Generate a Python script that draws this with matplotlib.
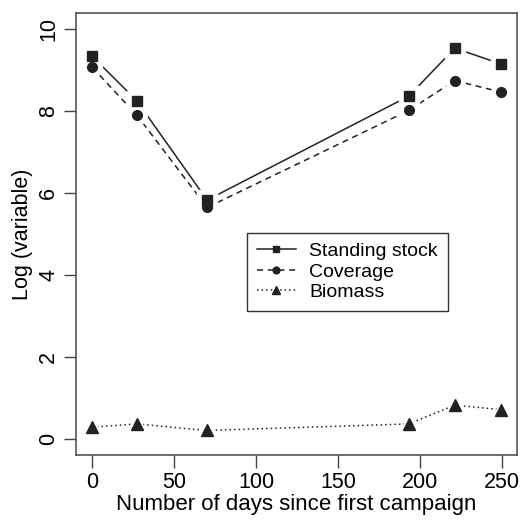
import matplotlib
matplotlib.use("Agg")
import matplotlib.pyplot as plt

plt.rcParams['font.family'] = ['Liberation Sans', 'DejaVu Sans']

# data
days = [0, 27, 70, 193, 221, 249]
standing_stock = [9.34, 8.26, 5.83, 8.37, 9.54, 9.16]
coverage = [9.07, 7.91, 5.65, 8.02, 8.75, 8.47]
biomass = [0.28, 0.36, 0.20, 0.36, 0.82, 0.71]

x_ticks = [0, 50, 100, 150, 200, 250]
y_ticks = [0, 2, 4, 6, 8, 10]

fig = plt.figure(figsize=(5.21, 5.25), dpi=100)
ax = fig.add_axes([0.1459, 0.1333, 0.8464, 0.8419])

lc = '#222222'
series = [
    (standing_stock, '-', 's', 7, 'Standing stock'),
    (coverage, (0, (4, 3)), 'o', 7, 'Coverage'),
    (biomass, (0, (1, 2)), '^', 8, 'Biomass'),
]
for vals, ls, mk, ms, lab in series:
    ax.plot(days, vals, color=lc, lw=1.1, ls=ls, zorder=2)
    # white halo like R's type="b" gaps
    ax.plot(days, vals, ls='none', marker=mk, ms=ms + 7, color='white',
            mec='white', zorder=3)
    ax.plot(days, vals, ls='none', marker=mk, ms=ms, color=lc, zorder=4)
    ax.plot([], [], color=lc, lw=1.1, ls=ls, marker=mk, ms=ms * 0.7, label=lab)

ax.set_xlim(-9.96, 258.96)
ax.set_ylim(-0.4, 10.4)
ax.set_xticks(x_ticks)
ax.set_yticks(y_ticks)
ax.set_yticklabels([str(v) for v in y_ticks], rotation=90, va='center')
ax.tick_params(labelsize=15.5, length=9, width=1, color='#444444', pad=3)

for s in ax.spines.values():
    s.set_color('#555555')
    s.set_linewidth(1.2)

ax.set_xlabel('Number of days since first campaign', fontsize=16, labelpad=1)
ax.set_ylabel('Log (variable)', fontsize=15.5, labelpad=4)

leg = ax.legend(loc='upper left', bbox_to_anchor=(0.388, 0.503), fontsize=14,
                fancybox=False, framealpha=1, edgecolor='#333333',
                handlelength=2.0, handletextpad=0.7, borderpad=0.5,
                labelspacing=0.15, borderaxespad=0)
leg.get_frame().set_linewidth(1.0)

fig.savefig('out.png', dpi=100)
